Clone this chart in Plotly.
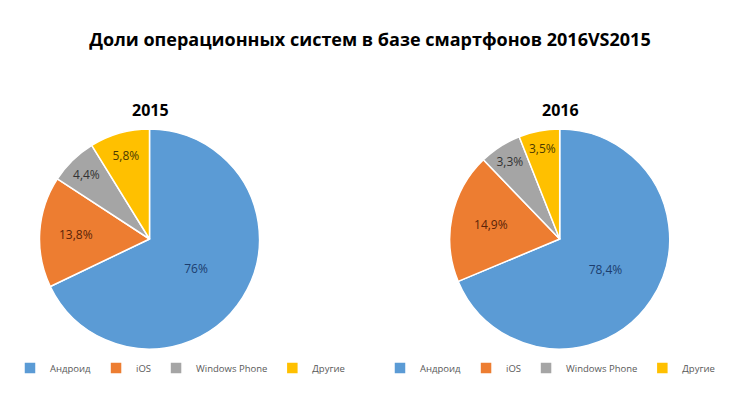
import plotly.graph_objects as go

categories = ["Андроид", "iOS", "Windows Phone", "Другие"]
# slice shares as drawn in the picture
shares_2015 = [67.9, 16.3, 7.0, 8.8]
shares_2016 = [68.7, 19.1, 6.2, 6.0]
# data labels as printed on the picture
labels_2015 = ["76%", "13,8%", "4,4%", "5,8%"]
labels_2016 = ["78,4%", "14,9%", "3,3%", "3,5%"]

colors = ["#5B9BD5", "#ED7D31", "#A5A5A5", "#FFC000"]
text_colors = ["#1c3d6e", "#5a2308", "#333333", "#4d3b00"]

# page body has an 8px margin on every side; keep the page from scrolling
OFF = 8
W, H = 731 - 2 * OFF, 397 - 2 * OFF
FONT = "Open Sans"


def px(x):
    return (x - OFF) / W


def py(y):
    return 1 - (y - OFF) / H


def dom(cx, cy, r):
    return dict(x=[px(cx - r), px(cx + r)], y=[py(cy + r), py(cy - r)])


fig = go.Figure()
fig.add_trace(go.Pie(
    labels=categories, values=shares_2015, text=labels_2015,
    textinfo="text", textposition="inside", insidetextorientation="horizontal",
    sort=False, direction="clockwise", rotation=0,
    marker=dict(colors=colors, line=dict(color="white", width=1.5)),
    textfont=dict(family=FONT, size=12, color=text_colors),
    domain=dom(149.5, 239, 110), legend="legend", legendgroup="y2015",
    hoverinfo="label+text",
))
fig.add_trace(go.Pie(
    labels=categories, values=shares_2016, text=labels_2016,
    textinfo="text", textposition="inside", insidetextorientation="horizontal",
    sort=False, direction="clockwise", rotation=0,
    marker=dict(colors=colors, line=dict(color="white", width=1.5)),
    textfont=dict(family=FONT, size=12, color=text_colors),
    domain=dom(559.7, 239, 110), legend="legend2", legendgroup="y2016",
    hoverinfo="label+text",
))

leg_common = dict(orientation="h", yanchor="middle", traceorder="normal",
                  font=dict(family=FONT, size=9.5, color="#595959"),
                  bgcolor="rgba(0,0,0,0)", itemwidth=30, tracegroupgap=0)

fig.update_layout(
    width=W, height=H,
    paper_bgcolor="white", plot_bgcolor="white",
    margin=dict(l=0, r=0, t=0, b=0),
    font=dict(family=FONT),
    title=dict(text="<b>Доли операционных систем в базе смартфонов 2016VS2015</b>",
               x=px(370), xanchor="center", y=py(40), yanchor="middle",
               font=dict(family=FONT, size=18, color="#000000")),
    legend=dict(x=px(10), xanchor="left", y=py(368), **leg_common),
    legend2=dict(x=px(720), xanchor="right", y=py(368), **leg_common),
    annotations=[
        dict(text="<b>2015</b>", x=px(150), y=py(110), xref="paper", yref="paper",
             showarrow=False, xanchor="center", yanchor="middle",
             font=dict(family=FONT, size=16, color="#000000")),
        dict(text="<b>2016</b>", x=px(560), y=py(110), xref="paper", yref="paper",
             showarrow=False, xanchor="center", yanchor="middle",
             font=dict(family=FONT, size=16, color="#000000")),
    ],
)

fig.write_html("out.html")
